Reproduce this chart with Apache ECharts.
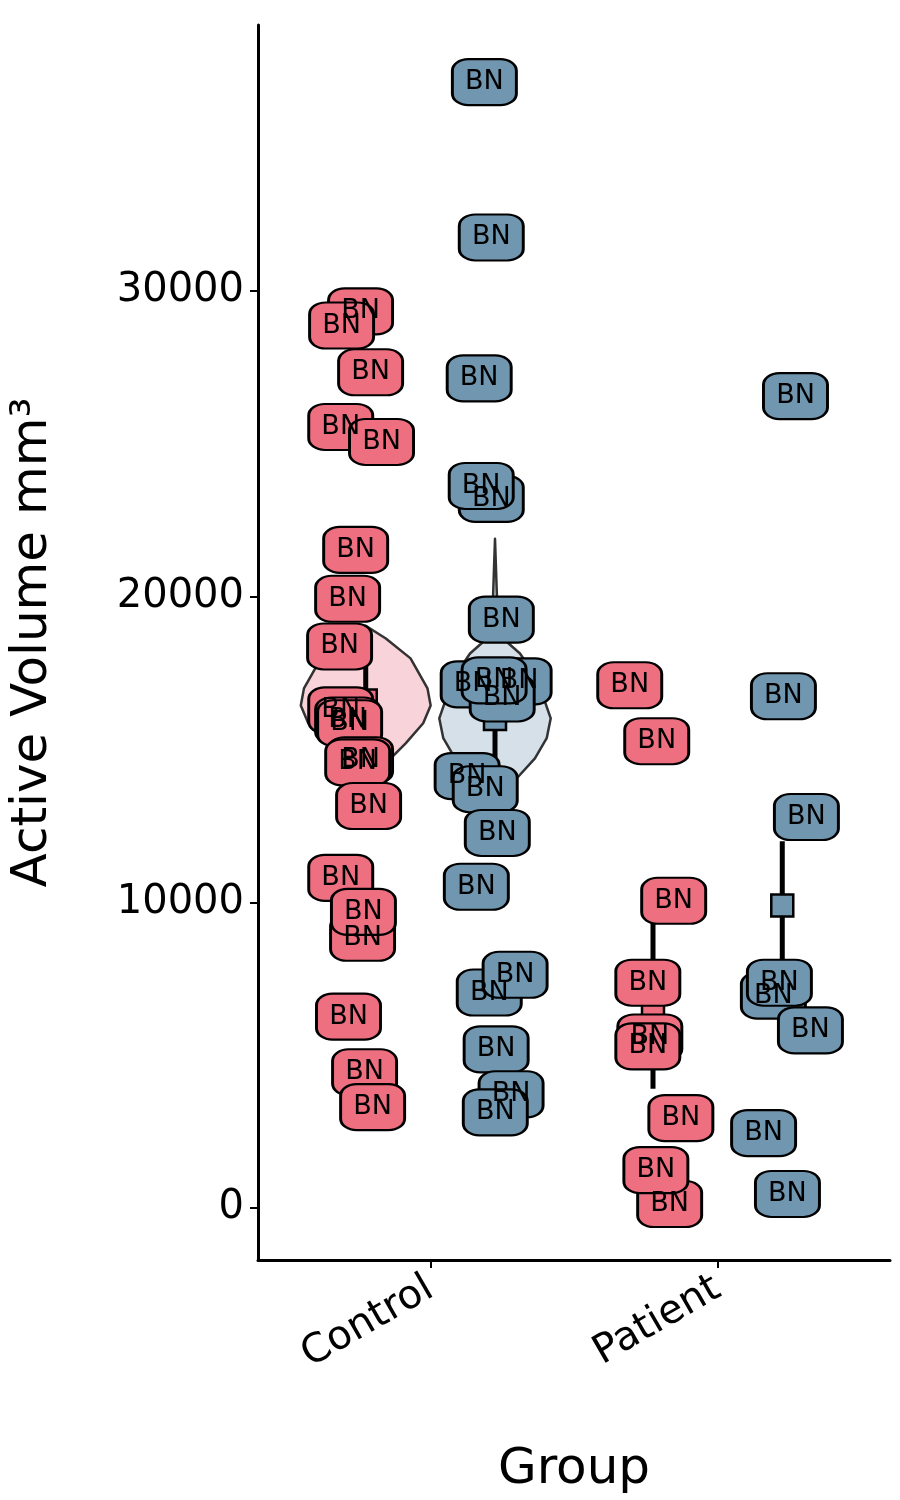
<!DOCTYPE html>
<html><head><meta charset="utf-8">
<script src="https://cdn.jsdelivr.net/npm/echarts@6/dist/echarts.min.js"></script>
<style>html,body{margin:0;background:#fff}#c{width:900px;height:1500px}</style>
</head><body><div id="c"></div>
<script>
// categories at x = 1, 2; dodged groups at +-0.225
const categories = ['Control', 'Patient'];
const yTicks = [0, 10000, 20000, 30000];
// jittered label positions [x, value]
const ctrlRed = [[0.757,29330],[0.691,28870],[0.792,27340],[0.688,25550],[0.830,25060],[0.740,21530],
  [0.712,19930],[0.684,18370],[0.688,16280],[0.712,15950],[0.719,15860],[0.757,14650],[0.747,14580],
  [0.785,13150],[0.688,10800],[0.764,8840],[0.767,9690],[0.715,6260],[0.771,4440],[0.799,3300]];
const ctrlBlue = [[1.188,36830],[1.212,31750],[1.170,27140],[1.212,23200],[1.177,23620],[1.247,19250],
  [1.149,17130],[1.309,17230],[1.250,16670],[1.222,17260],[1.128,14130],[1.191,13700],[1.233,12270],
  [1.160,10510],[1.205,7050],[1.295,7630],[1.229,5190],[1.281,3720],[1.226,3130]];
const patRed = [[1.694,17100],[1.788,15270],[1.847,10050],[1.757,7370],[1.764,5580],[1.757,5290],
  [1.872,2940],[1.833,130],[1.785,1240]];
const patBlue = [[2.271,26560],[2.229,16740],[2.309,12790],[2.194,6950],[2.215,7370],[2.323,5810],
  [2.160,2450],[2.243,460]];
// summaries [x, mean, low, high]
const summaryRed = [[0.775,16600,14400,17800],[1.775,6300,3900,9400]];
const summaryBlue = [[1.225,16000,13900,17900],[2.225,9900,7000,12000]];
// violin profiles [value, half-width]
const violinRed = [[19050,0],[18630,0.07],[17980,0.156],[17000,0.215],[16440,0.226],[15860,0.2],
  [15200,0.139],[14550,0.07],[14060,0]];
const violinBlue = [[21890,0],[19930,0.007],[18630,0.028],[18140,0.087],[17320,0.146],[16020,0.194],
  [15370,0.18],[14710,0.139],[14060,0.076],[13570,0]];

const RED = '#ee6f80', BLUE = '#7096b0';
const chart = echarts.init(document.getElementById('c'));

function violin(profile, cx, fill) {
  return {
    type: 'custom', z: 1, silent: true,
    data: [0],
    renderItem(params, api) {
      const pts = [];
      profile.forEach(p => pts.push(api.coord([cx + p[1], p[0]])));
      profile.slice().reverse().forEach(p => pts.push(api.coord([cx - p[1], p[0]])));
      return { type: 'polygon', shape: { points: pts },
        style: { fill: fill, stroke: '#333', lineWidth: 2.5, lineJoin: 'round' } };
    }
  };
}
function summary(data, fill) {
  return {
    type: 'custom', z: 2, silent: true, data: data,
    renderItem(params, api) {
      const top = api.coord([api.value(0), api.value(3)]);
      const bot = api.coord([api.value(0), api.value(2)]);
      const m = api.coord([api.value(0), api.value(1)]);
      return { type: 'group', children: [
        { type: 'line', shape: { x1: top[0], y1: top[1], x2: bot[0], y2: bot[1] }, style: { stroke: '#000', lineWidth: 5 } },
        { type: 'rect', shape: { x: m[0] - 11, y: m[1] - 11, width: 22, height: 22 }, style: { fill: fill, stroke: '#000', lineWidth: 2.5 } }
      ] };
    }
  };
}
function labels(data, fill) {
  return {
    type: 'scatter', z: 3, data: data, symbol: 'roundRect', symbolSize: [64, 46],
    itemStyle: { color: fill, borderColor: '#000', borderWidth: 2.5, opacity: 1 },
    label: { show: true, position: 'inside', formatter: 'BN', color: '#000', fontSize: 27, fontFamily: 'DejaVu Sans' }
  };
}

chart.setOption({
  animation: false,
  grid: { left: 255, right: 10, top: 25, bottom: 237 },
  xAxis: {
    type: 'value', min: 0.4, max: 2.6, interval: 1,
    name: 'Group', nameLocation: 'middle', nameGap: 185,
    nameTextStyle: { fontSize: 50, color: '#000', fontFamily: 'DejaVu Sans' },
    splitLine: { show: false },
    axisLine: { onZero: false, lineStyle: { color: '#000', width: 3 } },
    axisTick: { show: true, length: 8, lineStyle: { color: '#000', width: 2 }, customValues: [1, 2] },
    axisLabel: { rotate: 30, fontSize: 40, color: '#000', fontFamily: 'DejaVu Sans', margin: 26,
      customValues: [1, 2], formatter: v => categories[Math.round(v) - 1] }
  },
  yAxis: {
    type: 'value', min: -1700, max: 38700,
    name: 'Active Volume mm³', nameLocation: 'middle', nameGap: 200,
    nameTextStyle: { fontSize: 50, color: '#000', fontFamily: 'DejaVu Sans' },
    splitLine: { show: false },
    axisLine: { show: true, onZero: false, lineStyle: { color: '#000', width: 3 } },
    axisTick: { show: true, length: 8, lineStyle: { color: '#000', width: 2 }, customValues: yTicks },
    axisLabel: { fontSize: 40, color: '#000', fontFamily: 'DejaVu Sans', margin: 14, customValues: yTicks,
      formatter: v => String(v) }
  },
  series: [
    violin(violinRed, 0.775, '#f9d3da'),
    violin(violinBlue, 1.225, '#d5e0e8'),
    summary(summaryRed, RED),
    summary(summaryBlue, BLUE),
    labels(ctrlRed, RED), labels(ctrlBlue, BLUE),
    labels(patRed, RED), labels(patBlue, BLUE)
  ]
});
</script></body></html>
